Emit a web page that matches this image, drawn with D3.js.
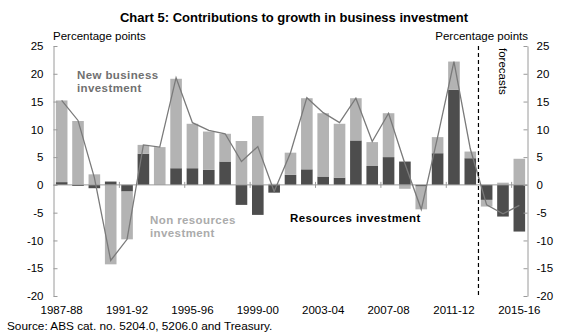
<!DOCTYPE html>
<html>
<head>
<meta charset="utf-8">
<script src="https://d3js.org/d3.v7.min.js"></script>
<style>
  body { margin: 0; background: #fff; }
  text { font-family: "Liberation Sans", Arial, sans-serif; }
  .axis .domain, .axis line { stroke: #9a9a9a; }
  .axis text { font-size: 11.5px; fill: #000; }
</style>
</head>
<body>
<svg id="chart" width="562" height="336"></svg>
<script>
// financial years
const years = ["1987-88","1988-89","1989-90","1990-91","1991-92","1992-93","1993-94","1994-95",
  "1995-96","1996-97","1997-98","1998-99","1999-00","2000-01","2001-02","2002-03","2003-04",
  "2004-05","2005-06","2006-07","2007-08","2008-09","2009-10","2010-11","2011-12","2012-13",
  "2013-14","2014-15","2015-16"];

// contributions, percentage points
const resources = [0.5, -0.2, -0.6, 0.6, -1.2, 5.6, 0, 3.0, 3.0, 2.7, 4.2, -3.6, -5.4, -1.4, 1.8,
  2.8, 1.5, 1.3, 8.0, 3.4, 5.0, 4.2, -0.3, 5.7, 17.1, 4.8, -2.7, -5.7, -8.4];
const nonResources = [14.7, 11.5, 1.9, -14.3, -8.6, 1.6, 6.8, 16.1, 8.0, 6.9, 5.0, 7.9, 12.4, 0.2, 4.0,
  12.8, 11.4, 9.7, 7.6, 4.3, 7.9, -0.7, -4.1, 2.9, 5.1, 1.2, -1.2, 0.4, 4.7];
const newBusiness = [15.2, 11.6, 1.3, -13.6, -9.8, 7.2, 6.8, 19.3, 11.2, 9.8, 9.2, 4.2, 6.9, -1.2, 5.8,
  15.7, 13.0, 11.2, 15.6, 7.8, 12.9, 3.8, -4.4, 8.6, 22.2, 6.5, -3.6, -5.2, -3.7];

const yTicks = [-20, -15, -10, -5, 0, 5, 10, 15, 20, 25];
const xLabels = ["1987-88","1991-92","1995-96","1999-00","2003-04","2007-08","2011-12","2015-16"];
const forecastFrom = "2013-14";

const svg = d3.select("#chart");
const plotLeft = 53.5, plotRight = 527.5, plotTop = 46, plotBottom = 296;

const x = d3.scaleBand().domain(years).range([plotLeft, plotRight])
  .paddingInner(0.29).paddingOuter(0.145);
const y = d3.scaleLinear().domain([-20, 25]).range([plotBottom, plotTop]);
const step = x.step();

// stacked bars, resources next to zero
const table = years.map((yr, i) => ({year: yr, resources: resources[i], nonResources: nonResources[i]}));
const series = d3.stack().keys(["resources", "nonResources"])
  .offset(d3.stackOffsetDiverging)(table);
const colour = {resources: "#4d4d4d", nonResources: "#b3b3b3"};

svg.append("g").selectAll("g").data(series).join("g")
  .attr("fill", d => colour[d.key])
  .selectAll("rect").data(d => d).join("rect")
    .attr("x", d => x(d.data.year))
    .attr("width", x.bandwidth())
    .attr("y", d => y(Math.max(d[0], d[1])))
    .attr("height", d => Math.abs(y(d[0]) - y(d[1])));

// zero line with ticks every four years
const xIdx = d3.scaleLinear().domain([0, years.length]).range([plotLeft, plotRight]);
svg.append("g").attr("class", "axis")
  .attr("transform", `translate(0,${y(0) - 3})`)
  .call(d3.axisBottom(xIdx).tickValues([4, 8, 12, 16, 20, 24, 28]).tickSize(6).tickFormat("").tickSizeOuter(0))
  .call(g => g.select(".domain").remove());
svg.append("line")
  .attr("x1", plotLeft).attr("x2", plotRight)
  .attr("y1", y(0)).attr("y2", y(0))
  .attr("stroke", "#9a9a9a");

// total line
svg.append("path").datum(newBusiness)
  .attr("fill", "none")
  .attr("stroke", "#7a7a7a")
  .attr("stroke-width", 1.3)
  .attr("d", d3.line().x((d, i) => x(years[i]) + x.bandwidth() / 2).y(d => y(d)));

// y axes
const fmt = d => String(d);
svg.append("g").attr("class", "axis")
  .attr("transform", `translate(${plotLeft},0)`)
  .call(d3.axisLeft(y).tickValues(yTicks).tickFormat(fmt).tickSize(-4).tickSizeOuter(0).tickPadding(10));
svg.append("g").attr("class", "axis")
  .attr("transform", `translate(${plotRight},0)`)
  .call(d3.axisRight(y).tickValues(yTicks).tickFormat(fmt).tickSize(-4).tickSizeOuter(0).tickPadding(9));

// x labels
svg.append("g").attr("class", "axis")
  .attr("transform", `translate(0,${plotBottom + 7})`)
  .call(d3.axisBottom(x).tickValues(xLabels).tickSize(0).tickPadding(3))
  .call(g => g.select(".domain").remove());

// forecast divider
const fx = x(forecastFrom) - x.paddingInner() * step / 2;
svg.append("line")
  .attr("x1", fx).attr("x2", fx)
  .attr("y1", y(25)).attr("y2", y(-20))
  .attr("stroke", "#000").attr("stroke-width", 1.2)
  .attr("stroke-dasharray", "4,3");
svg.append("text")
  .attr("transform", `translate(${fx + 21},48) rotate(90)`)
  .attr("font-size", "11.5px")
  .text("forecasts");

// titles and labels
svg.append("text").attr("x", 294).attr("y", 22)
  .attr("text-anchor", "middle").attr("font-size", "13px").attr("font-weight", "bold")
  .text("Chart 5: Contributions to growth in business investment");
svg.append("text").attr("x", 53).attr("y", 40).attr("font-size", "11.5px").text("Percentage points");
svg.append("text").attr("x", 528).attr("y", 40).attr("text-anchor", "end")
  .attr("font-size", "11.5px").text("Percentage points");
svg.append("text").attr("x", 7).attr("y", 330).attr("font-size", "11.8px")
  .text("Source: ABS cat. no. 5204.0, 5206.0 and Treasury.");

const note = (lines, xPos, yPos, fill) => {
  const t = svg.append("text").attr("x", xPos).attr("y", yPos)
    .attr("font-size", "11.5px").attr("font-weight", "bold")
    .attr("letter-spacing", "0.4px").attr("fill", fill);
  lines.forEach((s, i) => t.append("tspan").attr("x", xPos).attr("dy", i ? 12.5 : 0).text(s));
};
note(["New business", "investment"], 77, 79, "#707070");
note(["Non resources", "investment"], 150, 224, "#ababab");
note(["Resources investment"], 290, 222, "#000");
</script>
</body>
</html>
